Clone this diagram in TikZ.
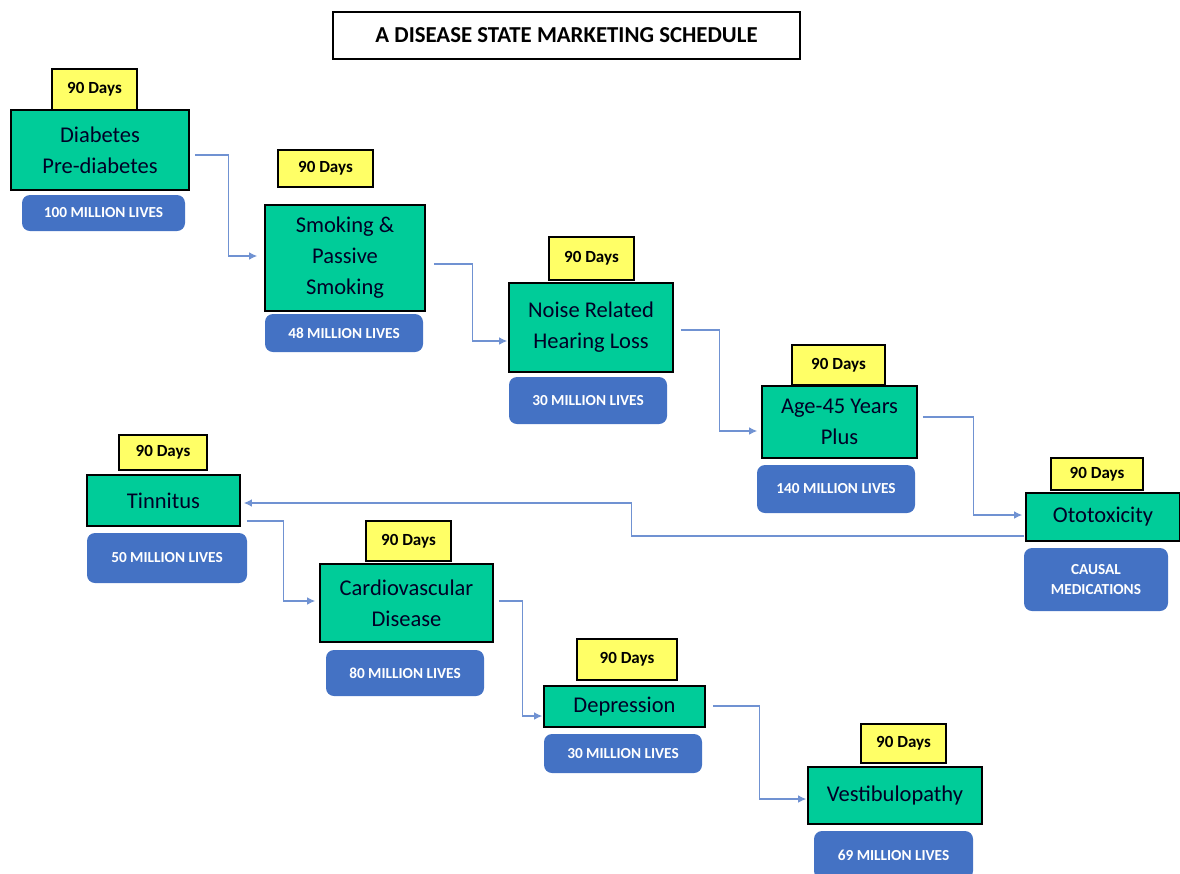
\documentclass[tikz,border=0pt]{standalone}
\usepackage{fontspec}
\setmainfont{Carlito}
\usepackage{tikz}
\usetikzlibrary{arrows.meta}
\definecolor{stagegreen}{RGB}{0,204,153}
\definecolor{daysyellow}{RGB}{255,255,102}
\definecolor{livesblue}{RGB}{68,114,196}
\definecolor{linkblue}{RGB}{112,146,210}
\tikzset{
  box/.style = {align=center, inner sep=0pt, text centered},
  heading/.style = {box, draw=black, line width=1.2pt, font=\fontsize{22.8}{26}\bfseries\selectfont},
  stage/.style = {box, fill=stagegreen, draw=black, line width=1.6pt, text=black!85!blue, font=\fontsize{22.5}{31}\selectfont},
  days/.style = {box, fill=daysyellow, draw=black, line width=1.5pt, font=\fontsize{17}{20}\bfseries\selectfont},
  lives/.style = {box, fill=livesblue, rounded corners=8pt, text=white, font=\fontsize{15.3}{20}\bfseries\selectfont},
  link/.style = {draw=linkblue, line width=1.1pt, -{Latex[length=8pt,width=7.5pt]}},
}

\begin{document}
\begin{tikzpicture}[x=1pt, y=-1pt]
  \useasboundingbox (0,0) rectangle (1180,873);
  \node [heading, minimum width=467, minimum height=47] (title) at (566.5,35.5) {A DISEASE STATE MARKETING SCHEDULE};

  \node [stage, minimum width=178, minimum height=80] (diab) at (100,150) {Diabetes\\Pre-diabetes};
  \node [days, minimum width=85, minimum height=41] (diab_d) at (94.5,89.5) {90 Days};
  \node [lives, minimum width=163, minimum height=36] (diab_l) at (103.5,213) {100 MILLION LIVES};

  \node [stage, minimum width=160, minimum height=106] (smok) at (345,258) {Smoking \&\\Passive\\Smoking};
  \node [days, minimum width=95, minimum height=37] (smok_d) at (325.5,168.5) {90 Days};
  \node [lives, minimum width=158, minimum height=38] (smok_l) at (344,333) {48 MILLION LIVES};

  \node [stage, minimum width=164, minimum height=89] (noise) at (591,327.5) {Noise Related\\Hearing Loss};
  \node [days, minimum width=85, minimum height=43] (noise_d) at (591.5,258.5) {90 Days};
  \node [lives, minimum width=158, minimum height=47] (noise_l) at (588,400.5) {30 MILLION LIVES};

  \node [stage, minimum width=155, minimum height=72] (age) at (839.5,422) {Age-45 Years\\Plus};
  \node [days, minimum width=93, minimum height=40] (age_d) at (838.5,365) {90 Days};
  \node [lives, minimum width=158, minimum height=48] (age_l) at (836,489) {140 MILLION LIVES};

  \node [stage, minimum width=154, minimum height=48] (oto) at (1103,517) {Ototoxicity};
  \node [days, minimum width=92, minimum height=32] (oto_d) at (1097,474) {90 Days};
  \node [lives, minimum width=144, minimum height=63] (oto_l) at (1096,579.5) {CAUSAL\\MEDICATIONS};

  \node [stage, minimum width=153, minimum height=51] (tinn) at (163.5,500.5) {Tinnitus};
  \node [days, minimum width=88, minimum height=35] (tinn_d) at (163,452.5) {90 Days};
  \node [lives, minimum width=160, minimum height=50] (tinn_l) at (167,558) {50 MILLION LIVES};

  \node [stage, minimum width=173, minimum height=78] (cardio) at (406.5,603) {Cardiovascular\\Disease};
  \node [days, minimum width=85, minimum height=40] (cardio_d) at (408.5,541) {90 Days};
  \node [lives, minimum width=158, minimum height=46] (cardio_l) at (405,673) {80 MILLION LIVES};

  \node [stage, minimum width=161, minimum height=41] (depr) at (624.5,706.5) {Depression};
  \node [days, minimum width=100, minimum height=41] (depr_d) at (627,659.5) {90 Days};
  \node [lives, minimum width=158, minimum height=39] (depr_l) at (623,753.5) {30 MILLION LIVES};

  \node [stage, minimum width=174, minimum height=57] (vest) at (895,795.5) {Vestibulopathy};
  \node [days, minimum width=85, minimum height=39] (vest_d) at (903.5,743.5) {90 Days};
  \node [lives, minimum width=159, minimum height=48] (vest_l) at (893.5,855) {69 MILLION LIVES};

  % elbow links between stages
  \draw [link] ([xshift=5,yshift=-5]diab.east) -- ++(34,0) |- ([xshift=-7,yshift=2]smok.west);
  \draw [link] ([xshift=8,yshift=-6]smok.east) -- ++(39,0) |- ([xshift=-1,yshift=-13.5]noise.west);
  \draw [link] ([xshift=7,yshift=-2.5]noise.east) -- ++(39,0) |- ([xshift=-4,yshift=-9]age.west);
  \draw [link] ([xshift=5,yshift=5]age.east) -- ++(51,0) |- ([xshift=-3,yshift=2]oto.west);
  \draw [link] ([xshift=-1,yshift=-19]oto.west) -- ++(-393,0) |- ([xshift=3,yshift=-2.5]tinn.east);
  \draw [link] ([xshift=6,yshift=-20.5]tinn.east) -- ++(37,0) |- ([xshift=-4,yshift=2]cardio.west);
  \draw [link] ([xshift=5,yshift=2]cardio.east) -- ++(24,0) |- ([xshift=-1,yshift=-9.5]depr.west);
  \draw [link] ([xshift=7,yshift=0.5]depr.east) -- ++(47,0) |- ([xshift=-1,yshift=-3.5]vest.west);
\end{tikzpicture}
\end{document}
